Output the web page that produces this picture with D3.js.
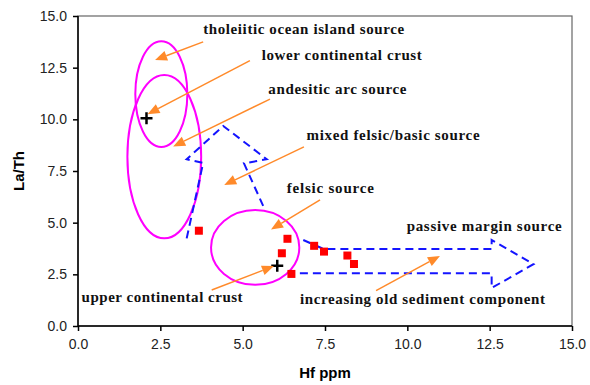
<!DOCTYPE html>
<html>
<head>
<meta charset="utf-8">
<title>La/Th vs Hf</title>
<script src="https://d3js.org/d3.v7.min.js"></script>
<style>
  body { margin: 0; background: #fff; }
  .tick text { font-family: Arial, "Liberation Sans", sans-serif; font-size: 14px; fill: #222; }
  .lbl { font-family: "Liberation Serif", "Times New Roman", serif; font-weight: bold; font-size: 15px; fill: #111; }
</style>
</head>
<body>
<script>
// samples (Hf ppm, La/Th)
var hf = [3.67, 6.36, 6.19, 6.48, 7.17, 7.47, 8.18, 8.38];
var lath = [4.61, 4.22, 3.52, 2.52, 3.88, 3.60, 3.41, 3.00];

// reference compositions (plus marks)
var refHf = [2.08, 6.05];
var refLaTh = [10.05, 2.92];

// source fields: centre and half axes, in data units
var fieldCx = [2.53, 2.62, 5.38];
var fieldCy = [11.22, 8.19, 3.80];
var fieldRx = [0.79, 1.12, 1.34];
var fieldRy = [2.56, 3.95, 1.81];

// dashed trend arrows
var upArrow = [[3.30, 4.24], [3.80, 7.89], [3.30, 8.07], [4.41, 9.68], [5.73, 8.07], [5.04, 7.87], [5.68, 5.61]];
var rightArrow = [[6.84, 4.16], [7.45, 3.73], [12.56, 3.73], [12.56, 4.16], [13.83, 2.99], [12.56, 1.84], [12.56, 2.55], [6.44, 2.55]];

// labels: text, x start, y centre
var labels = ["tholeiitic ocean island source", "lower continental crust", "andesitic arc source",
  "mixed felsic/basic source", "felsic source", "passive margin source",
  "upper continental crust", "increasing old sediment component"];
var labelX = [3.80, 5.58, 5.78, 6.94, 6.34, 9.98, 0.11, 6.74];
var labelY = [14.37, 13.11, 11.45, 9.24, 6.66, 4.84, 1.39, 1.29];
var labelW = [201, 160, 138, 173, 87, 155, 161, 245];

// pointer arrows: from -> to
var pointers = [
  [[3.80, 13.75], [2.34, 12.87]],
  [[5.22, 12.84], [2.11, 10.25]],
  [[5.83, 10.98], [2.89, 8.69]],
  [[6.86, 8.67], [4.44, 6.82]],
  [[7.35, 6.10], [5.86, 4.67]],
  [[4.06, 1.74], [5.95, 2.90]],
  [[9.05, 1.71], [10.99, 3.39]]
];

var xTicks = [0, 2.5, 5, 7.5, 10, 12.5, 15];
var yTicks = [0, 2.5, 5, 7.5, 10, 12.5, 15];

var W = 590, H = 385;
var svg = d3.select("body").append("svg").attr("width", W).attr("height", H);

var x = d3.scaleLinear().domain([0, 15]).range([78, 572]);
var y = d3.scaleLinear().domain([0, 15]).range([326, 16]);

// frame
svg.append("rect").attr("x", 78).attr("y", 16).attr("width", 494).attr("height", 310)
  .attr("fill", "none").attr("stroke", "#666").attr("stroke-width", 1.2);

var fmt = d3.format(".1f");
svg.append("g").attr("transform", "translate(0,326)")
  .call(d3.axisBottom(x).tickValues(xTicks).tickFormat(fmt).tickSize(5).tickPadding(8))
  .call(function(g){ g.selectAll("path,line").attr("stroke", "#000").attr("stroke-width", 1.5); g.select(".domain").attr("d", "M78,0H572"); });
svg.append("g").attr("transform", "translate(78,0)")
  .call(d3.axisLeft(y).tickValues(yTicks).tickFormat(fmt).tickSize(5).tickPadding(6))
  .call(function(g){ g.selectAll("path,line").attr("stroke", "#000").attr("stroke-width", 1.5); g.select(".domain").attr("d", "M0,16V326"); });

svg.append("text").attr("transform", "translate(24,171) rotate(-90)")
  .attr("text-anchor", "middle").attr("font-family", "Arial, sans-serif")
  .attr("font-weight", "bold").attr("font-size", 15).text("La/Th");
svg.append("text").attr("x", 325).attr("y", 378)
  .attr("text-anchor", "middle").attr("font-family", "Arial, sans-serif")
  .attr("font-weight", "bold").attr("font-size", 15).text("Hf ppm");

// fields
svg.selectAll("ellipse.field").data(fieldCx).enter().append("ellipse")
  .attr("cx", function(d){ return x(d); })
  .attr("cy", function(d, i){ return y(fieldCy[i]); })
  .attr("rx", function(d, i){ return x(fieldRx[i]) - x(0); })
  .attr("ry", function(d, i){ return y(0) - y(fieldRy[i]); })
  .attr("fill", "none").attr("stroke", "#ff00ff").attr("stroke-width", 2);

// dashed arrows
var line = d3.line().x(function(d){ return x(d[0]); }).y(function(d){ return y(d[1]); });
[upArrow, rightArrow].forEach(function(a){
  svg.append("path").attr("d", line(a)).attr("fill", "none")
    .attr("stroke", "#1414ff").attr("stroke-width", 2).attr("stroke-dasharray", "8,5");
});

// samples
svg.selectAll("rect.s").data(hf).enter().append("rect")
  .attr("x", function(d){ return x(d) - 4; })
  .attr("y", function(d, i){ return y(lath[i]) - 4; })
  .attr("width", 8).attr("height", 8).attr("fill", "#ff0000");

// references
svg.selectAll("path.ref").data(refHf).enter().append("path")
  .attr("transform", function(d, i){ return "translate(" + x(d) + "," + y(refLaTh[i]) + ")"; })
  .attr("d", "M-6,0H6M0,-6V6").attr("stroke", "#000").attr("stroke-width", 2.5);

// pointers
var orange = "#ff8a2a";
pointers.forEach(function(p){
  var x0 = x(p[0][0]), y0 = y(p[0][1]), x1 = x(p[1][0]), y1 = y(p[1][1]);
  var ang = Math.atan2(y1 - y0, x1 - x0);
  var L = 12, Wd = 5;
  var bx = x1 - L * Math.cos(ang), by = y1 - L * Math.sin(ang);
  svg.append("line").attr("x1", x0).attr("y1", y0).attr("x2", bx).attr("y2", by)
    .attr("stroke", orange).attr("stroke-width", 1.5);
  svg.append("path").attr("fill", orange)
    .attr("d", "M" + x1 + "," + y1 +
      "L" + (bx + Wd * Math.sin(ang)) + "," + (by - Wd * Math.cos(ang)) +
      "L" + (bx - Wd * Math.sin(ang)) + "," + (by + Wd * Math.cos(ang)) + "Z");
});

// labels
svg.selectAll("text.lbl").data(labels).enter().append("text").attr("class", "lbl")
  .attr("x", function(d, i){ return x(labelX[i]); })
  .attr("y", function(d, i){ return y(labelY[i]); })
  .attr("dy", "0.32em")
  .attr("textLength", function(d, i){ return labelW[i]; })
  .attr("lengthAdjust", "spacing")
  .text(function(d){ return d; });
</script>
</body>
</html>
